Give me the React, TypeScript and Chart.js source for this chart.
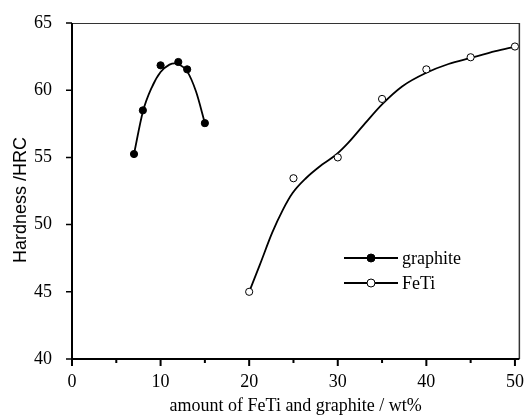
import React, { useEffect, useRef } from "react";
import { Chart, registerables } from "chart.js";

Chart.register(...registerables);

// ---- data ----
const graphiteX = [7, 8, 10, 12, 13, 15];
const graphiteY = [55.25, 58.5, 61.85, 62.1, 61.55, 57.55];

const fetiX = [20, 25, 30, 35, 40, 45, 50];
const fetiY = [45.0, 53.45, 55.0, 59.35, 61.55, 62.45, 63.25];

// smoothed fit curves as drawn in the picture
const graphiteCurveX = [7, 8, 9, 10, 11, 11.6, 12, 13, 14, 15];
const graphiteCurveY = [55.25, 58.4, 60.2, 61.35, 61.9, 62.0, 61.95, 61.4, 59.9, 57.55];

const fetiCurveX = [20, 21.2, 22.6, 23.8, 24.9, 26.4, 28.2, 29.8, 31.2, 33.1, 35, 37.3, 40, 42.5, 45, 47.8, 50];
const fetiCurveY = [45.0, 47.0, 49.4, 51.1, 52.35, 53.45, 54.45, 55.2, 56.1, 57.55, 58.95, 60.3, 61.3, 61.95, 62.4, 62.9, 63.25];

const xTickValues = [0, 5, 10, 15, 20, 25, 30, 35, 40, 45, 50];
const xLabelValues = [0, 10, 20, 30, 40, 50];
const yTickValues = [40, 45, 50, 55, 60, 65];

const seriesLabels = ["graphite", "FeTi"];
const xTitle = "amount of FeTi and graphite / wt%";
const yTitle = "Hardness /HRC";

const SERIF = "'Liberation Serif', 'Times New Roman', serif";
const SANS = "'Liberation Sans', Arial, sans-serif";

const zip = (xs: number[], ys: number[]) => xs.map((x, i) => ({ x, y: ys[i] }));

const decorPlugin = {
  id: "decor",
  afterDraw(chart: any) {
    const { ctx, chartArea: a, scales } = chart;
    const xs = scales.x;
    const ys = scales.y;
    ctx.save();
    ctx.lineCap = "butt";

    // top and right frame
    ctx.strokeStyle = "#333";
    ctx.lineWidth = 1;
    ctx.beginPath();
    ctx.moveTo(a.left, a.top + 0.5);
    ctx.lineTo(a.right, a.top + 0.5);
    ctx.stroke();
    ctx.lineWidth = 1.5;
    ctx.beginPath();
    ctx.moveTo(a.right, a.top);
    ctx.lineTo(a.right, a.bottom);
    ctx.stroke();

    // left & bottom axes
    ctx.strokeStyle = "#000";
    ctx.lineWidth = 2;
    ctx.beginPath();
    ctx.moveTo(a.left, a.top);
    ctx.lineTo(a.left, a.bottom);
    ctx.moveTo(a.left - 1, a.bottom);
    ctx.lineTo(a.right, a.bottom);
    ctx.stroke();

    // y ticks (outward)
    ctx.lineWidth = 1.5;
    ctx.beginPath();
    for (const v of yTickValues) {
      const py = ys.getPixelForValue(v);
      ctx.moveTo(a.left - 6, py);
      ctx.lineTo(a.left, py);
    }
    ctx.stroke();

    // x ticks (outward, major/minor)
    ctx.lineWidth = 2;
    ctx.beginPath();
    for (const v of xTickValues) {
      const px = xs.getPixelForValue(v);
      const len = xLabelValues.includes(v) ? 7 : 4;
      ctx.moveTo(px, a.bottom);
      ctx.lineTo(px, a.bottom + len);
    }
    ctx.stroke();

    // axis titles
    ctx.fillStyle = "#000";
    ctx.font = `18px ${SERIF}`;
    ctx.textAlign = "center";
    ctx.textBaseline = "middle";
    ctx.fillText(xTitle, (a.left + a.right) / 2, 406);

    ctx.save();
    ctx.translate(21, (a.top + a.bottom) / 2 + 9);
    ctx.rotate(-Math.PI / 2);
    ctx.font = `18px ${SANS}`;
    ctx.fillText(yTitle, 0, 0);
    ctx.restore();

    // legend
    const lx0 = 344;
    const lx1 = 398;
    const rows = [258, 283];
    const fills = ["#000", "#fff"];
    rows.forEach((ry, i) => {
      ctx.strokeStyle = "#000";
      ctx.lineWidth = 1.8;
      ctx.beginPath();
      ctx.moveTo(lx0, ry);
      ctx.lineTo(lx1, ry);
      ctx.stroke();
      ctx.beginPath();
      ctx.arc((lx0 + lx1) / 2, ry, 4, 0, Math.PI * 2);
      ctx.fillStyle = fills[i];
      ctx.fill();
      ctx.lineWidth = 1;
      ctx.stroke();
      ctx.fillStyle = "#000";
      ctx.font = `18px ${SERIF}`;
      ctx.textAlign = "left";
      ctx.textBaseline = "middle";
      ctx.fillText(seriesLabels[i], 402, ry + 1);
    });

    ctx.restore();
  },
};

export default function App() {
  const ref = useRef<HTMLCanvasElement | null>(null);

  useEffect(() => {
    if (!ref.current) return;
    const chart = new Chart(ref.current, {
      type: "scatter",
      data: {
        datasets: [
          {
            label: seriesLabels[0],
            data: zip(graphiteX, graphiteY),
            showLine: false,
            pointRadius: 3.6,
            pointBackgroundColor: "#000",
            pointBorderColor: "#000",
            pointBorderWidth: 1,
          },
          {
            label: seriesLabels[1],
            data: zip(fetiX, fetiY),
            showLine: false,
            pointRadius: 3.6,
            pointBackgroundColor: "#fff",
            pointBorderColor: "#000",
            pointBorderWidth: 1,
          },
          {
            label: seriesLabels[0] + " fit",
            data: zip(graphiteCurveX, graphiteCurveY),
            showLine: true,
            pointRadius: 0,
            borderColor: "#000",
            borderWidth: 1.8,
            cubicInterpolationMode: "monotone",
          },
          {
            label: seriesLabels[1] + " fit",
            data: zip(fetiCurveX, fetiCurveY),
            showLine: true,
            pointRadius: 0,
            borderColor: "#000",
            borderWidth: 1.8,
            cubicInterpolationMode: "monotone",
          },
        ],
      } as any,
      options: {
        responsive: false,
        animation: false,
        devicePixelRatio: 1,
        layout: { padding: { top: 23, right: 6, left: 0, bottom: 0 } },
        plugins: {
          legend: { display: false },
          tooltip: { enabled: false },
        },
        scales: {
          x: {
            type: "linear",
            min: 0,
            max: 50.5,
            grid: { display: false },
            border: { display: false },
            afterBuildTicks: (s: any) => {
              s.ticks = xTickValues.map((v) => ({ value: v }));
            },
            afterFit: (s: any) => {
              s.height = 59;
            },
            ticks: {
              autoSkip: false,
              maxRotation: 0,
              padding: 4,
              color: "#000",
              font: { family: SERIF, size: 18 },
              callback: (v: any) => (xLabelValues.includes(Number(v)) ? String(v) : ""),
            },
          },
          y: {
            type: "linear",
            min: 40,
            max: 65,
            grid: { display: false },
            border: { display: false },
            afterBuildTicks: (s: any) => {
              s.ticks = yTickValues.map((v) => ({ value: v }));
            },
            afterFit: (s: any) => {
              s.width = 72;
            },
            ticks: {
              autoSkip: false,
              padding: 12,
              color: "#000",
              font: { family: SERIF, size: 18 },
              callback: (v: any) => String(v),
            },
          },
        },
      } as any,
      plugins: [decorPlugin],
    });
    return () => chart.destroy();
  }, []);

  return (
    <div style={{ position: "fixed", left: 0, top: 0, width: 528, height: 418, background: "#fff" }}>
      <canvas ref={ref} width={528} height={418} style={{ display: "block", width: 528, height: 418 }} />
    </div>
  );
}
